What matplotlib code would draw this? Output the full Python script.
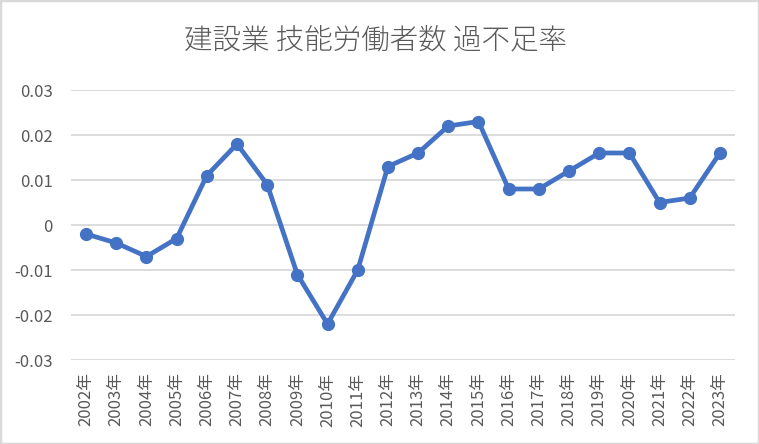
import matplotlib
matplotlib.use("Agg")
import matplotlib.pyplot as plt
from matplotlib.patches import Rectangle

plt.rcParams['font.family'] = ['Noto Sans CJK JP', 'DejaVu Sans']

years = [f"{y}年" for y in range(2002, 2024)]
values = [-0.002, -0.004, -0.007, -0.003, 0.011, 0.018, 0.009, -0.011, -0.022, -0.010,
          0.013, 0.016, 0.022, 0.023, 0.008, 0.008, 0.012, 0.016, 0.016, 0.005, 0.006, 0.016]
yticks = [-0.03, -0.02, -0.01, 0, 0.01, 0.02, 0.03]
ytick_labels = ["-0.03", "-0.02", "-0.01", "0", "0.01", "0.02", "0.03"]
title = "建設業 技能労働者数 過不足率"

W, H = 759, 444
fig = plt.figure(figsize=(W / 100, H / 100), dpi=100)
ax = fig.add_axes([71 / W, 1 - 360 / H, (735 - 71) / W, (360 - 90) / H])

x = list(range(len(years)))
ax.plot(x, values, color='#4472C4', linewidth=3.4, marker='o', markersize=8.5,
        solid_capstyle='round', solid_joinstyle='round', zorder=3)

ax.set_xlim(-0.5, len(years) - 0.5)
ax.set_ylim(-0.03, 0.03)
ax.set_yticks(yticks)
ax.set_yticklabels(ytick_labels)
ax.set_xticks(x)
ax.set_xticklabels(years, rotation=90)
ax.grid(axis='y', color='#D9D9D9', linewidth=1.3)
ax.set_axisbelow(True)
for s in ax.spines.values():
    s.set_visible(False)
ax.tick_params(axis='both', length=0, colors='#595959', labelsize=12)
ax.tick_params(axis='y', pad=13)
ax.tick_params(axis='x', pad=9)

fig.text(375 / W, 1 - 40 / H, title, ha='center', va='center', fontsize=20.5,
         color='#595959', fontweight='light')

fig.patches.append(Rectangle((0, 0), 1, 1, transform=fig.transFigure, fill=False,
                             edgecolor='#D9D9D9', linewidth=2.5))

fig.savefig('out.png', dpi=100)
